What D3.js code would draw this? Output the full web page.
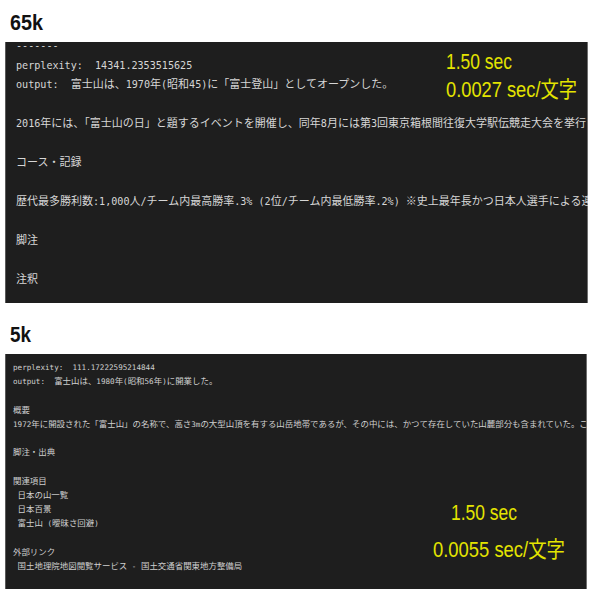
<!DOCTYPE html>
<html><head><meta charset="utf-8">
<script src="https://cdn.jsdelivr.net/npm/d3@7"></script>
<style>html,body{margin:0;padding:0;background:#fff;} svg{display:block;} text{white-space:pre;}</style>
</head><body>
<svg id="c" width="589" height="589"></svg>
<script>
// ---- data ----
const panelTitles = ["65k", "5k"];
const topLines = [
  "-------",
  "perplexity:  14341.2353515625",
  "output:  富士山は、1970年(昭和45)に「富士登山」としてオープンした。",
  "",
  "2016年には、「富士山の日」と題するイベントを開催し、同年8月には第3回東京箱根間往復大学駅伝競走大会を挙行",
  "",
  "コース・記録",
  "",
  "歴代最多勝利数:1,000人/チーム内最高勝率.3% (2位/チーム内最低勝率.2%) ※史上最年長かつ日本人選手による連",
  "",
  "脚注",
  "",
  "注釈"
];
const bottomLines = [
  "perplexity:  111.17222595214844",
  "output:  富士山は、1980年(昭和56年)に開業した。",
  "",
  "概要",
  "1972年に開設された「富士山」の名称で、高さ3mの大型山頂を有する山岳地帯であるが、その中には、かつて存在していた山麓部分も含まれていた。こ",
  "",
  "脚注・出典",
  "",
  "関連項目",
  " 日本の山一覧",
  " 日本百景",
  " 富士山 (曖昧さ回避)",
  "",
  "外部リンク",
  " 国土地理院地図閲覧サービス - 国土交通省関東地方整備局"
];
const totalTimes = ["1.50 sec", "1.50 sec"];
const perCharTimes = ["0.0027 sec/文字", "0.0055 sec/文字"];

// ---- layout ----
const svg = d3.select("#c");
const panels = [
  {title: panelTitles[0], tw: 33, lines: topLines, x0: 5, x1: 588, y0: 42, y1: 303, tx: 10, ty: 30,
   textX: 16, lineY: d3.scaleLinear().domain([0, 12]).range([45.5, 279.5]), asc: 10.1, cjk: 11, col: "#d6d6d6",
   t1: {x: 446, y: 69, w: 66}, t2: {x: 446, y: 97, w: 131}, t: 0},
  {title: panelTitles[1], tw: 21, lines: bottomLines, x0: 5, x1: 587, y0: 354, y1: 589, tx: 10, ty: 342,
   textX: 13, lineY: d3.scaleLinear().domain([0, 14]).range([367.5, 566]), asc: 7.6, cjk: 8.45, col: "#cfcfcf",
   t1: {x: 451, y: 520, w: 66}, t2: {x: 433, y: 557, w: 132}, t: 1}
];

function addRuns(sel, str, asc, cjk) {
  const runs = str.match(/[\x00-\x7F]+|[^\x00-\x7F]+/g) || [];
  runs.forEach(r => {
    const a = /^[\x00-\x7F]/.test(r);
    sel.append("tspan").text(r)
      .attr("font-family", a ? "'DejaVu Sans Mono', monospace" : "'Noto Sans CJK JP', sans-serif")
      .attr("font-size", a ? asc : cjk);
  });
}

const yf = "'Liberation Sans', 'Noto Sans CJK JP', sans-serif";

panels.forEach((p, i) => {
  svg.append("text").attr("x", p.tx).attr("y", p.ty)
    .attr("font-family", "'Liberation Sans', sans-serif")
    .attr("font-weight", "bold").attr("font-size", 22).attr("fill", "#111")
    .attr("textLength", p.tw).attr("lengthAdjust", "spacingAndGlyphs")
    .text(p.title);

  const clipId = "clip" + i;
  svg.append("clipPath").attr("id", clipId).append("rect")
    .attr("x", p.x0).attr("y", p.y0).attr("width", p.x1 - p.x0).attr("height", p.y1 - p.y0);

  svg.append("rect").attr("x", p.x0).attr("y", p.y0)
    .attr("width", p.x1 - p.x0).attr("height", p.y1 - p.y0).attr("fill", "#1e1e1e");
  svg.append("line").attr("x1", p.x0 + 0.5).attr("x2", p.x0 + 0.5).attr("y1", p.y0).attr("y2", p.y1)
    .attr("stroke", "#5a5a5a").attr("stroke-width", 1);
  svg.append("line").attr("x1", p.x1 - 0.5).attr("x2", p.x1 - 0.5).attr("y1", p.y0).attr("y2", p.y1)
    .attr("stroke", "#6e6e6e").attr("stroke-width", 1);

  const g = svg.append("g").attr("clip-path", `url(#${clipId})`);
  g.selectAll("text.line").data(p.lines).enter().append("text")
    .attr("class", "line")
    .attr("x", p.textX)
    .attr("y", (d, k) => p.lineY(k) + p.asc * 0.36)
    .attr("fill", p.col)
    .each(function(d) { addRuns(d3.select(this), d, p.asc, p.cjk); });

  svg.append("text").attr("x", p.t1.x).attr("y", p.t1.y)
    .attr("font-family", yf).attr("font-size", 22)
    .attr("textLength", p.t1.w).attr("lengthAdjust", "spacingAndGlyphs")
    .attr("fill", "#e4e400").text(totalTimes[p.t]);
  svg.append("text").attr("x", p.t2.x).attr("y", p.t2.y)
    .attr("font-family", yf).attr("font-size", 22)
    .attr("textLength", p.t2.w).attr("lengthAdjust", "spacingAndGlyphs")
    .attr("fill", "#e4e400").text(perCharTimes[p.t]);
});
</script>
</body></html>
